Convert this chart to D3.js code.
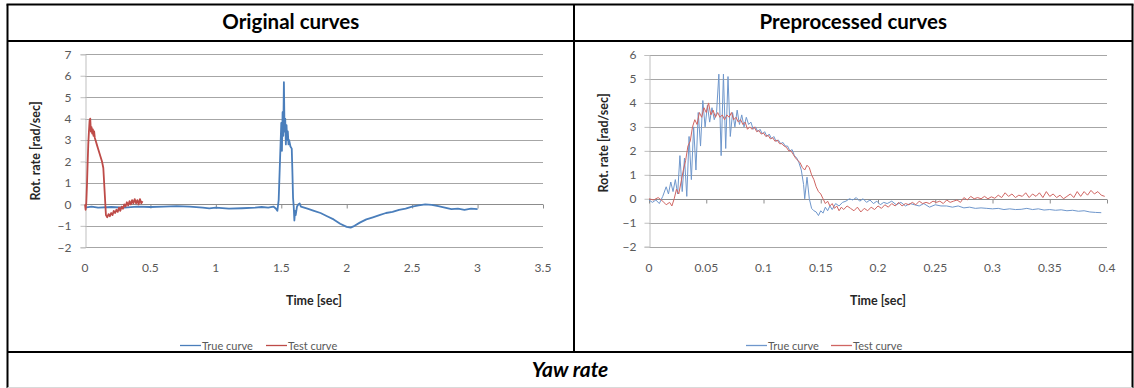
<!DOCTYPE html>
<html><head><meta charset="utf-8">
<script src="https://cdn.jsdelivr.net/npm/d3@7/dist/d3.min.js"></script>
<style>
html,body{margin:0;padding:0;background:#fff;}
svg{display:block;}
text{font-family:Lato,"Open Sans",sans-serif;}
</style></head>
<body>
<svg id="c" width="1134" height="388"></svg>
<script>
// ---------------- DATA ----------------
const headerTitles = ["Original curves", "Preprocessed curves"];
const footerTitle = "Yaw rate";
const seriesNames = ["True curve", "Test curve"];
const yAxisTitle = "Rot. rate [rad/sec]";
const xAxisTitle = "Time [sec]";

const origXTicks = [0, 0.5, 1, 1.5, 2, 2.5, 3, 3.5];
const origYTicks = [-2, -1, 0, 1, 2, 3, 4, 5, 6, 7];
const preXTicks = [0, 0.05, 0.1, 0.15, 0.2, 0.25, 0.3, 0.35, 0.4];
const preYTicks = [-2, -1, 0, 1, 2, 3, 4, 5, 6];

// Original: True curve
const origTrueT = [0,0.05,0.1,0.2,0.3,0.4,0.5,0.6,0.7,0.8,0.9,0.95,1.0,1.1,1.2,1.3,1.35,1.4,1.44,1.46,1.47,1.48,1.49,1.50,1.505,1.51,1.515,1.52,1.525,1.53,1.535,1.54,1.545,1.55,1.555,1.56,1.57,1.58,1.585,1.59,1.595,1.60,1.605,1.61,1.62,1.63,1.64,1.65,1.70,1.75,1.80,1.85,1.90,1.95,2.00,2.03,2.06,2.10,2.15,2.20,2.25,2.30,2.35,2.40,2.45,2.50,2.55,2.60,2.65,2.70,2.75,2.80,2.85,2.90,2.95,3.00];
const origTrueV = [-0.15,-0.1,-0.15,-0.12,-0.15,-0.1,-0.12,-0.1,-0.08,-0.1,-0.15,-0.18,-0.15,-0.2,-0.18,-0.15,-0.12,-0.15,-0.1,-0.2,-0.3,0.2,2.0,3.8,2.5,4.3,3.2,5.7,3.4,4.0,2.8,3.7,3.0,3.4,2.8,3.0,2.7,2.6,1.5,0.3,-0.1,-0.75,-0.3,-0.5,-0.1,0.0,0.05,-0.1,-0.2,-0.3,-0.4,-0.55,-0.7,-0.9,-1.05,-1.08,-1.0,-0.85,-0.7,-0.6,-0.5,-0.4,-0.35,-0.25,-0.2,-0.1,-0.05,0.0,-0.02,-0.08,-0.15,-0.22,-0.2,-0.25,-0.2,-0.22];

// Original: Test curve
const origTestT = [0,0.005,0.01,0.015,0.02,0.025,0.03,0.035,0.04,0.045,0.05,0.055,0.06,0.065,0.07,0.075,0.08,0.09,0.10,0.11,0.12,0.13,0.14,0.15,0.16,0.17,0.18,0.19,0.20,0.21,0.22,0.23,0.24,0.25,0.26,0.27,0.28,0.29,0.30,0.31,0.32,0.33,0.34,0.35,0.36,0.37,0.38,0.39,0.40,0.41,0.42,0.43,0.44];
const origTestV = [0,-0.25,0.1,0.9,1.9,2.8,3.4,3.9,4.0,3.4,3.6,3.3,3.5,3.2,3.4,3.1,3.0,2.8,2.6,2.4,2.2,2.0,1.7,0.6,-0.5,-0.6,-0.45,-0.55,-0.4,-0.5,-0.3,-0.4,-0.25,-0.35,-0.15,-0.3,-0.1,-0.2,0.0,-0.1,0.1,-0.05,0.15,0.0,0.2,0.05,0.25,0.05,0.2,0.0,0.25,0.05,0.15];

// Preprocessed: True curve
const preTrueT = [0.000,0.003,0.006,0.009,0.012,0.015,0.017,0.019,0.021,0.023,0.025,0.027,0.029,0.031,0.033,0.035,0.037,0.039,0.041,0.043,0.045,0.047,0.049,0.051,0.053,0.055,0.057,0.059,0.061,0.063,0.065,0.067,0.069,0.071,0.073,0.075,0.077,0.079,0.081,0.083,0.085,0.087,0.089,0.091,0.093,0.095,0.097,0.099,0.101,0.103,0.105,0.107,0.109,0.111,0.113,0.115,0.117,0.119,0.121,0.123,0.125,0.127,0.129,0.131,0.133,0.135,0.136,0.138,0.140,0.142,0.144,0.146,0.148,0.150,0.152,0.154,0.156,0.158,0.160,0.163,0.166,0.169,0.172,0.175,0.178,0.181,0.184,0.187,0.190,0.193,0.196,0.199,0.202,0.205,0.208,0.212,0.216,0.220,0.224,0.228,0.232,0.236,0.240,0.245,0.250,0.255,0.260,0.265,0.270,0.275,0.280,0.285,0.290,0.295,0.300,0.305,0.310,0.315,0.320,0.325,0.330,0.335,0.340,0.345,0.350,0.355,0.360,0.365,0.370,0.375,0.380,0.385,0.390,0.395];
const preTrueV = [-0.05,-0.15,-0.05,-0.2,0.1,0.5,0.2,0.7,0.3,0.8,0.2,1.8,0.3,1.7,0.1,2.6,0.8,3.0,1.2,3.6,2.2,4.1,3.0,3.9,3.2,3.8,3.3,3.6,5.2,1.8,5.2,2.1,5.1,2.6,3.6,3.0,3.7,3.1,3.5,3.0,3.4,3.1,3.2,2.9,3.0,2.8,2.9,2.7,2.8,2.6,2.7,2.5,2.6,2.4,2.45,2.3,2.35,2.2,2.2,2.0,2.05,1.8,1.7,1.5,1.2,0.6,0.0,0.9,0.0,-0.4,-0.5,-0.55,-0.7,-0.5,-0.6,-0.35,-0.5,-0.3,-0.45,-0.2,-0.3,-0.15,-0.1,0.0,-0.05,0.05,-0.1,0.0,-0.15,-0.05,-0.2,-0.1,-0.25,-0.15,-0.2,-0.1,-0.25,-0.15,-0.3,-0.2,-0.25,-0.3,-0.2,-0.35,-0.25,-0.3,-0.3,-0.35,-0.3,-0.38,-0.35,-0.4,-0.38,-0.4,-0.42,-0.4,-0.45,-0.42,-0.45,-0.44,-0.4,-0.45,-0.42,-0.47,-0.45,-0.48,-0.46,-0.5,-0.48,-0.52,-0.5,-0.55,-0.57,-0.58];

// Preprocessed: Test curve
const preTestT = [0.000,0.004,0.008,0.012,0.015,0.018,0.020,0.022,0.024,0.026,0.028,0.030,0.032,0.034,0.036,0.038,0.040,0.042,0.044,0.046,0.048,0.050,0.052,0.054,0.056,0.058,0.060,0.062,0.064,0.066,0.068,0.070,0.072,0.074,0.076,0.078,0.080,0.082,0.084,0.086,0.088,0.090,0.092,0.094,0.096,0.098,0.100,0.102,0.104,0.106,0.108,0.110,0.112,0.114,0.116,0.118,0.120,0.122,0.124,0.126,0.128,0.130,0.132,0.134,0.136,0.138,0.140,0.142,0.144,0.146,0.148,0.150,0.152,0.154,0.156,0.158,0.160,0.162,0.164,0.166,0.168,0.170,0.173,0.176,0.179,0.182,0.185,0.188,0.191,0.194,0.197,0.200,0.203,0.206,0.209,0.212,0.215,0.218,0.221,0.224,0.227,0.230,0.233,0.236,0.239,0.242,0.245,0.248,0.251,0.254,0.257,0.260,0.263,0.266,0.269,0.272,0.275,0.278,0.281,0.284,0.287,0.290,0.293,0.296,0.299,0.302,0.305,0.308,0.311,0.314,0.317,0.320,0.323,0.326,0.329,0.332,0.335,0.338,0.341,0.344,0.347,0.350,0.353,0.356,0.359,0.362,0.365,0.368,0.371,0.374,0.377,0.380,0.383,0.386,0.389,0.392,0.395,0.398];
const preTestV = [0.0,-0.05,0.05,-0.1,-0.25,-0.15,-0.3,0.0,0.4,0.2,0.7,1.2,1.6,2.2,2.4,3.0,3.3,3.1,3.6,3.4,3.8,3.6,4.0,3.5,3.7,3.4,3.6,3.4,3.5,3.3,3.5,3.4,3.6,3.3,3.4,3.2,3.3,3.1,3.2,2.9,3.0,2.9,3.0,2.8,2.85,2.7,2.75,2.6,2.65,2.5,2.55,2.4,2.45,2.3,2.3,2.2,2.15,2.0,2.0,1.85,1.7,1.6,1.5,1.3,1.2,1.4,1.3,1.0,0.8,0.5,0.3,0.2,0.0,-0.2,-0.1,-0.3,-0.2,-0.4,-0.3,-0.5,-0.35,-0.45,-0.3,-0.4,-0.5,-0.35,-0.55,-0.4,-0.5,-0.35,-0.45,-0.3,-0.4,-0.25,-0.35,-0.2,-0.3,-0.15,-0.3,-0.2,-0.25,-0.15,-0.25,-0.1,-0.2,-0.15,-0.2,-0.1,-0.15,-0.1,-0.2,-0.05,-0.15,-0.1,-0.05,-0.15,0.05,-0.05,0.1,0.0,0.05,0.0,0.1,0.0,0.08,0.02,0.15,0.05,0.25,0.1,0.2,0.05,0.15,0.1,0.25,0.05,0.2,0.1,0.25,0.05,0.3,0.1,0.2,0.05,0.15,0.0,0.1,0.2,0.05,0.3,0.1,0.3,0.15,0.35,0.2,0.3,0.15,0.1];

// ---------------- DRAW ----------------
const svg = d3.select("#c");
const blue = "#4a7ebb", red = "#be4b48";
const blueL = "#6f97cc", redL = "#d06562";
const gridC = "#a6a6a6", tickC = "#595959";

function chart(cfg) {
  const x = d3.scaleLinear().domain(cfg.xd).range(cfg.xr);
  const y = d3.scaleLinear().domain(cfg.yd).range(cfg.yr);
  const g = svg.append("g");
  g.selectAll(".grid").data(cfg.yTicks.filter(v => v !== 0)).join("line")
    .attr("x1", cfg.xr[0]).attr("x2", cfg.xr[1])
    .attr("y1", d => Math.round(y(d)) + 0.5).attr("y2", d => Math.round(y(d)) + 0.5)
    .attr("stroke", gridC).attr("stroke-width", 1);
  const ya = d3.axisLeft(y).tickValues(cfg.yTicks).tickSize(5).tickPadding(cfg.yPad).tickFormat(d3.format("d"));
  const yg = g.append("g").attr("transform", `translate(${Math.round(cfg.xr[0]) + 0.5},0)`).call(ya);
  yg.select(".domain").attr("stroke", "#bfbfbf");
  yg.selectAll(".tick line").attr("stroke", "#bfbfbf");
  yg.selectAll(".tick text").attr("fill", tickC).style("font-size", "12px").style("font-family", "Lato");
  const y0 = Math.round(y(0)) + 0.5;
  const xa = d3.axisBottom(x).tickValues(cfg.xTicks).tickSize(4).tickFormat("");
  const xg = g.append("g").attr("transform", `translate(0,${y0})`).call(xa);
  xg.select(".domain").attr("stroke", "#8c8c8c").attr("d", `M${cfg.xr[0]},0H${cfg.xr[1]}`);
  xg.selectAll(".tick line").attr("stroke", "#8c8c8c");
  g.selectAll(".xl").data(cfg.xTicks).join("text")
    .attr("x", d => x(d)).attr("y", cfg.xLabelY)
    .attr("text-anchor", "middle").attr("fill", tickC).style("font-size", "12px")
    .text(d => cfg.xfmt(d));
  g.append("text").attr("x", (cfg.xr[0] + cfg.xr[1]) / 2).attr("y", cfg.xTitleY)
    .attr("text-anchor", "middle").attr("fill", "#262626").style("font-size", "12.5px").style("font-weight", "bold")
    .text(xAxisTitle);
  g.append("text").attr("transform", `translate(${cfg.yTitleX},${cfg.yTitleY}) rotate(-90)`)
    .attr("text-anchor", "middle").attr("fill", "#262626").style("font-size", "12.5px").style("font-weight", "bold")
    .text(yAxisTitle);
  const line = d3.line().x(d => x(d[0])).y(d => y(d[1]));
  const trueData = cfg.trueT.map((t, i) => [t, cfg.trueV[i]]);
  const testData = cfg.testT.map((t, i) => [t, cfg.testV[i]]);
  g.append("path").datum(trueData).attr("d", line).attr("fill", "none")
    .attr("stroke", cfg.cTrue).attr("stroke-width", cfg.lw).attr("stroke-linejoin", "round");
  g.append("path").datum(testData).attr("d", line).attr("fill", "none")
    .attr("stroke", cfg.cTest).attr("stroke-width", cfg.lw).attr("stroke-linejoin", "round");
  const lg = g.append("g").attr("transform", `translate(${cfg.legX},${cfg.legY})`);
  const items = [{n: seriesNames[0], c: cfg.cTrue, dx: 0}, {n: seriesNames[1], c: cfg.cTest, dx: cfg.legGap}];
  items.forEach(it => {
    lg.append("line").attr("x1", it.dx).attr("x2", it.dx + 21).attr("y1", 0.5).attr("y2", 0.5)
      .attr("stroke", it.c).attr("stroke-width", 1.3);
    lg.append("text").attr("x", it.dx + 22).attr("y", 4.5).attr("fill", tickC).style("font-size", "11px").text(it.n);
  });
}

chart({
  xd: [0, 3.5], xr: [85, 543], yd: [-2, 7], yr: [247.3, 54.3],
  xTicks: origXTicks, yTicks: origYTicks, xfmt: d => d3.format("")(d), yPad: 9,
  xLabelY: 272, xTitleY: 305, yTitleX: 40, yTitleY: 151,
  trueT: origTrueT, trueV: origTrueV, testT: origTestT, testV: origTestV,
  cTrue: blue, cTest: red, lw: 1.8, legX: 180, legY: 345, legGap: 86
});
chart({
  xd: [0, 0.4], xr: [649, 1107], yd: [-2, 6], yr: [246.7, 55],
  xTicks: preXTicks, yTicks: preYTicks, xfmt: d => d3.format("")(d), yPad: 8,
  xLabelY: 272, xTitleY: 305, yTitleX: 608, yTitleY: 143,
  trueT: preTrueT, trueV: preTrueV, testT: preTestT, testV: preTestV,
  cTrue: blueL, cTest: redL, lw: 1, legX: 746, legY: 345, legGap: 85
});

// ---------------- TABLE FRAME ----------------
const fr = svg.append("g");
const L = 7.5, R = 1132.5, T = 4.5, H = 41, MID = 574, ROW = 352;
fr.append("line").attr("x1", L - 1).attr("x2", R + 1).attr("y1", T).attr("y2", T).attr("stroke", "#000").attr("stroke-width", 2);
fr.append("line").attr("x1", L).attr("x2", L).attr("y1", T).attr("y2", 388).attr("stroke", "#000").attr("stroke-width", 2);
fr.append("line").attr("x1", R).attr("x2", R).attr("y1", T).attr("y2", 388).attr("stroke", "#000").attr("stroke-width", 2);
fr.append("line").attr("x1", L).attr("x2", R).attr("y1", H).attr("y2", H).attr("stroke", "#000").attr("stroke-width", 2);
fr.append("line").attr("x1", MID).attr("x2", MID).attr("y1", T).attr("y2", ROW).attr("stroke", "#000").attr("stroke-width", 2);
fr.append("line").attr("x1", L).attr("x2", R).attr("y1", ROW).attr("y2", ROW).attr("stroke", "#000").attr("stroke-width", 2);
fr.append("line").attr("x1", L).attr("x2", R).attr("y1", 387.5).attr("y2", 387.5).attr("stroke", "#d9d9d9").attr("stroke-width", 1);

fr.append("text").attr("x", (L + MID) / 2).attr("y", 29).attr("text-anchor", "middle")
  .style("font-size", "20.5px").style("font-weight", "bold").attr("fill", "#000").text(headerTitles[0]);
fr.append("text").attr("x", (MID + R) / 2).attr("y", 29).attr("text-anchor", "middle")
  .style("font-size", "20.5px").style("font-weight", "bold").attr("fill", "#000").text(headerTitles[1]);
fr.append("text").attr("x", (L + R) / 2).attr("y", 377).attr("text-anchor", "middle")
  .style("font-size", "21px").style("font-weight", "bold").style("font-style", "italic").attr("fill", "#000").text(footerTitle);
</script>
</body></html>
